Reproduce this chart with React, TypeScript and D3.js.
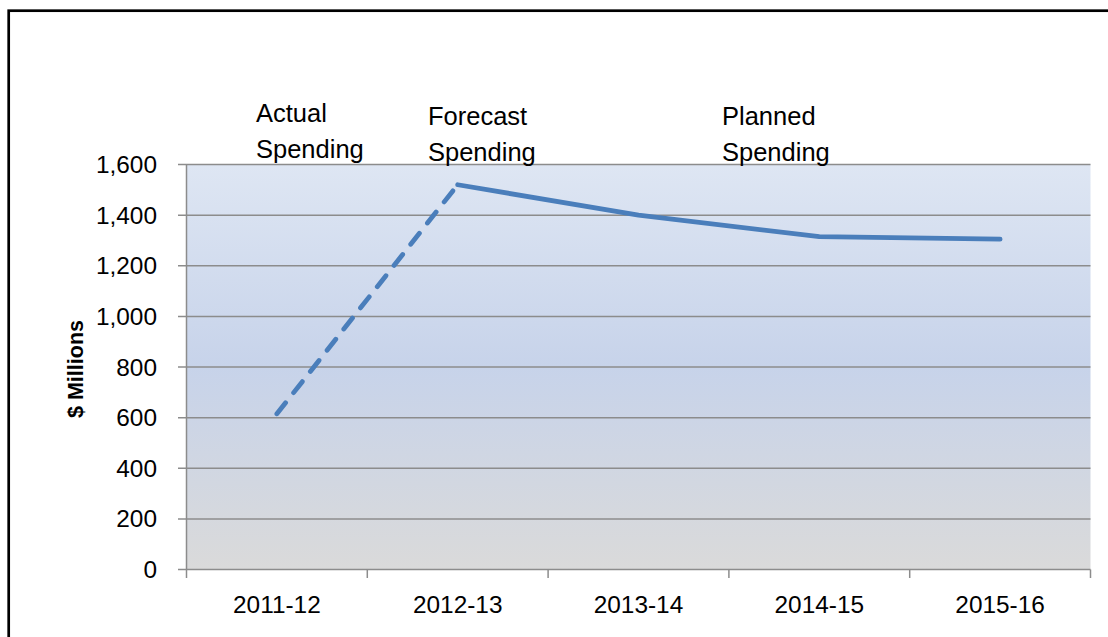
import React from "react";
import * as d3 from "d3";

const categories = ["2011-12", "2012-13", "2013-14", "2014-15", "2015-16"];
const actualValues = [615, 1520];
const plannedValues = [1520, 1400, 1315, 1305];
const yTicks = [0, 200, 400, 600, 800, 1000, 1200, 1400, 1600];
const annotations = [
  { lines: ["Actual", "Spending"], x: 256, y: 122 },
  { lines: ["Forecast", "Spending"], x: 428, y: 125 },
  { lines: ["Planned", "Spending"], x: 722, y: 125 },
];

const W = 1108;
const H = 637;
const L = 186.5, R = 1090.5, T = 164.5, B = 569.5;
const FONT = "'Liberation Sans', Arial, sans-serif";

export default function App() {
  const x = d3.scaleBand<string>().domain(categories).range([L, R]).padding(0);
  const cx = (c: string) => (x(c) as number) + x.bandwidth() / 2;
  const y = d3.scaleLinear().domain([0, 1600]).range([B, T]);

  const actualPts: [number, number][] = actualValues.map((v, i) => [cx(categories[i]), y(v)]);
  const plannedPts: [number, number][] = plannedValues.map((v, i) => [cx(categories[i + 1]), y(v)]);
  const straight = d3.line().curve(d3.curveLinear);

  const boundaries = [...categories.map((c) => x(c) as number), R];

  return (
    <svg width={W} height={H} style={{ position: "absolute", left: 0, top: 0, background: "#fff" }}>
      <defs>
        <linearGradient id="plotGrad" x1="0" y1="0" x2="0" y2="1">
          <stop offset="0%" stopColor="#DEE6F3" />
          <stop offset="50%" stopColor="#C7D3EA" />
          <stop offset="100%" stopColor="#DADADA" />
        </linearGradient>
      </defs>
      <rect x={8.7} y={10.7} width={W + 20} height={H + 20} fill="none" stroke="#000" strokeWidth={2.7} />
      <rect x={L} y={T} width={R - L} height={B - T} fill="url(#plotGrad)" />
      {yTicks.map((t) => (
        <g key={t}>
          <line x1={178} x2={R} y1={y(t)} y2={y(t)} stroke="#8C8C8C" strokeWidth={1.5} />
          <text x={157} y={y(t) + 8.5} textAnchor="end" fontFamily={FONT} fontSize={24.4} fill="#000">
            {d3.format(",")(t)}
          </text>
        </g>
      ))}
      <line x1={L} x2={L} y1={T} y2={B} stroke="#8C8C8C" strokeWidth={1.5} />
      {boundaries.map((b, i) => (
        <line key={i} x1={b} x2={b} y1={B} y2={578} stroke="#8C8C8C" strokeWidth={1.5} />
      ))}
      {categories.map((c) => (
        <text key={c} x={cx(c)} y={613} textAnchor="middle" fontFamily={FONT} fontSize={24.4} fill="#000">
          {c}
        </text>
      ))}
      <text
        transform="translate(83,369) rotate(-90)"
        textAnchor="middle"
        fontFamily={FONT}
        fontWeight="bold"
        fontSize={21.5}
        fill="#000"
      >
        $ Millions
      </text>
      <path
        d={straight(actualPts) as string}
        fill="none"
        stroke="#4A7EBB"
        strokeWidth={4.8}
        strokeDasharray="14 13"
        strokeLinecap="round"
      />
      <path
        d={straight(plannedPts) as string}
        fill="none"
        stroke="#4A7EBB"
        strokeWidth={4.8}
        strokeLinecap="round"
        strokeLinejoin="round"
      />
      {annotations.map((a, i) => (
        <text key={i} x={a.x} y={a.y} fontFamily={FONT} fontSize={25.5} fill="#000">
          {a.lines.map((ln, j) => (
            <tspan key={j} x={a.x} y={a.y + j * 36}>
              {ln}
            </tspan>
          ))}
        </text>
      ))}
    </svg>
  );
}
